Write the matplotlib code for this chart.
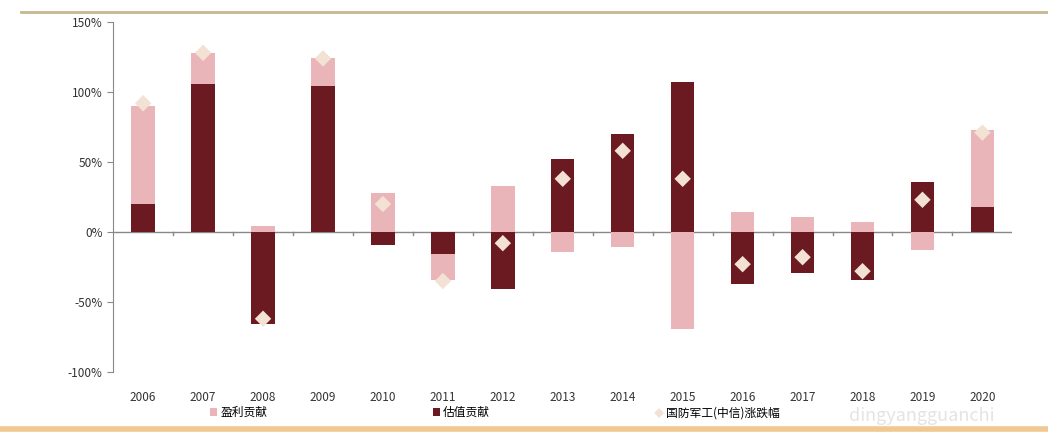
import numpy as np
import matplotlib
matplotlib.use('Agg')
import matplotlib.pyplot as plt
from matplotlib.ticker import PercentFormatter

plt.rcParams['font.family'] = ['Noto Sans CJK SC', 'DejaVu Sans']
plt.rcParams['axes.unicode_minus'] = False

years = ['2006', '2007', '2008', '2009', '2010', '2011', '2012', '2013',
         '2014', '2015', '2016', '2017', '2018', '2019', '2020']
# 盈利贡献 / 估值贡献 / 涨跌幅, in %
earn = [70, 22, 4, 20, 28, -18, 33, -14, -11, -69, 14, 11, 7, -13, 55]
valu = [20, 106, -66, 104, -9, -16, -41, 52, 70, 107, -37, -29, -34, 36, 18]
total = [92, 128, -62, 124, 20, -35, -8, 38, 58, 38, -23, -18, -28, 23, 71]

dark = '#6a1a20'
pink = '#e9b5b9'
cream = '#f3e1d4'

fig = plt.figure(figsize=(10.48, 4.32), dpi=100)
ax = fig.add_axes([0.108, 0.139, 0.858, 0.81])

x = np.arange(len(years))
earn = np.array(earn)
valu = np.array(valu)
# stack positives and negatives separately, valuation first
earn_base = np.where(np.sign(earn) == np.sign(valu), valu, 0)
w = 0.39
b_val = ax.bar(x, valu, width=w, color=dark, zorder=2)
b_earn = ax.bar(x, earn, width=w, bottom=earn_base, color=pink, zorder=2)
sc = ax.scatter(x, total, marker='D', s=70, color=cream, edgecolor='none', zorder=3)

ax.set_xlim(-0.5, len(years) - 0.5)
ax.set_ylim(-100, 150)
ax.set_yticks([-100, -50, 0, 50, 100, 150])
ax.yaxis.set_major_formatter(PercentFormatter(decimals=0))
ax.set_xticks(x)
ax.set_xticklabels(years)
ax.tick_params(axis='x', length=0, pad=14, labelsize=8.5, labelcolor='#333333')
ax.tick_params(axis='y', length=4, color='#888888', labelsize=8.5, labelcolor='#333333')
for s in ['top', 'right', 'bottom']:
    ax.spines[s].set_visible(False)
ax.spines['left'].set_color('#888888')
ax.axhline(0, color='#888888', lw=1, zorder=1)
for xm in x[:-1] + 0.5:
    ax.plot([xm, xm], [0, -2], color='#888888', lw=1, zorder=1)

fig.legend([b_earn, b_val, sc], ['盈利贡献', '估值贡献', '国防军工(中信)涨跌幅'],
           loc='center left', bbox_to_anchor=(0.19, 0.045), ncol=3, frameon=False,
           fontsize=8.5, columnspacing=14, handlelength=0.6, handletextpad=0.3,
           markerscale=0.6)

fig.add_artist(plt.Line2D([0.02, 1.0], [0.972, 0.972], color='#c9b68e', lw=2))
fig.add_artist(plt.Line2D([0.0, 1.0], [0.008, 0.008], color='#f0c890', lw=4))
fig.text(0.88, 0.025, 'dingyangguanchi', fontsize=13, color='#e4e4e4', ha='center')

fig.savefig('out.png', dpi=100)
